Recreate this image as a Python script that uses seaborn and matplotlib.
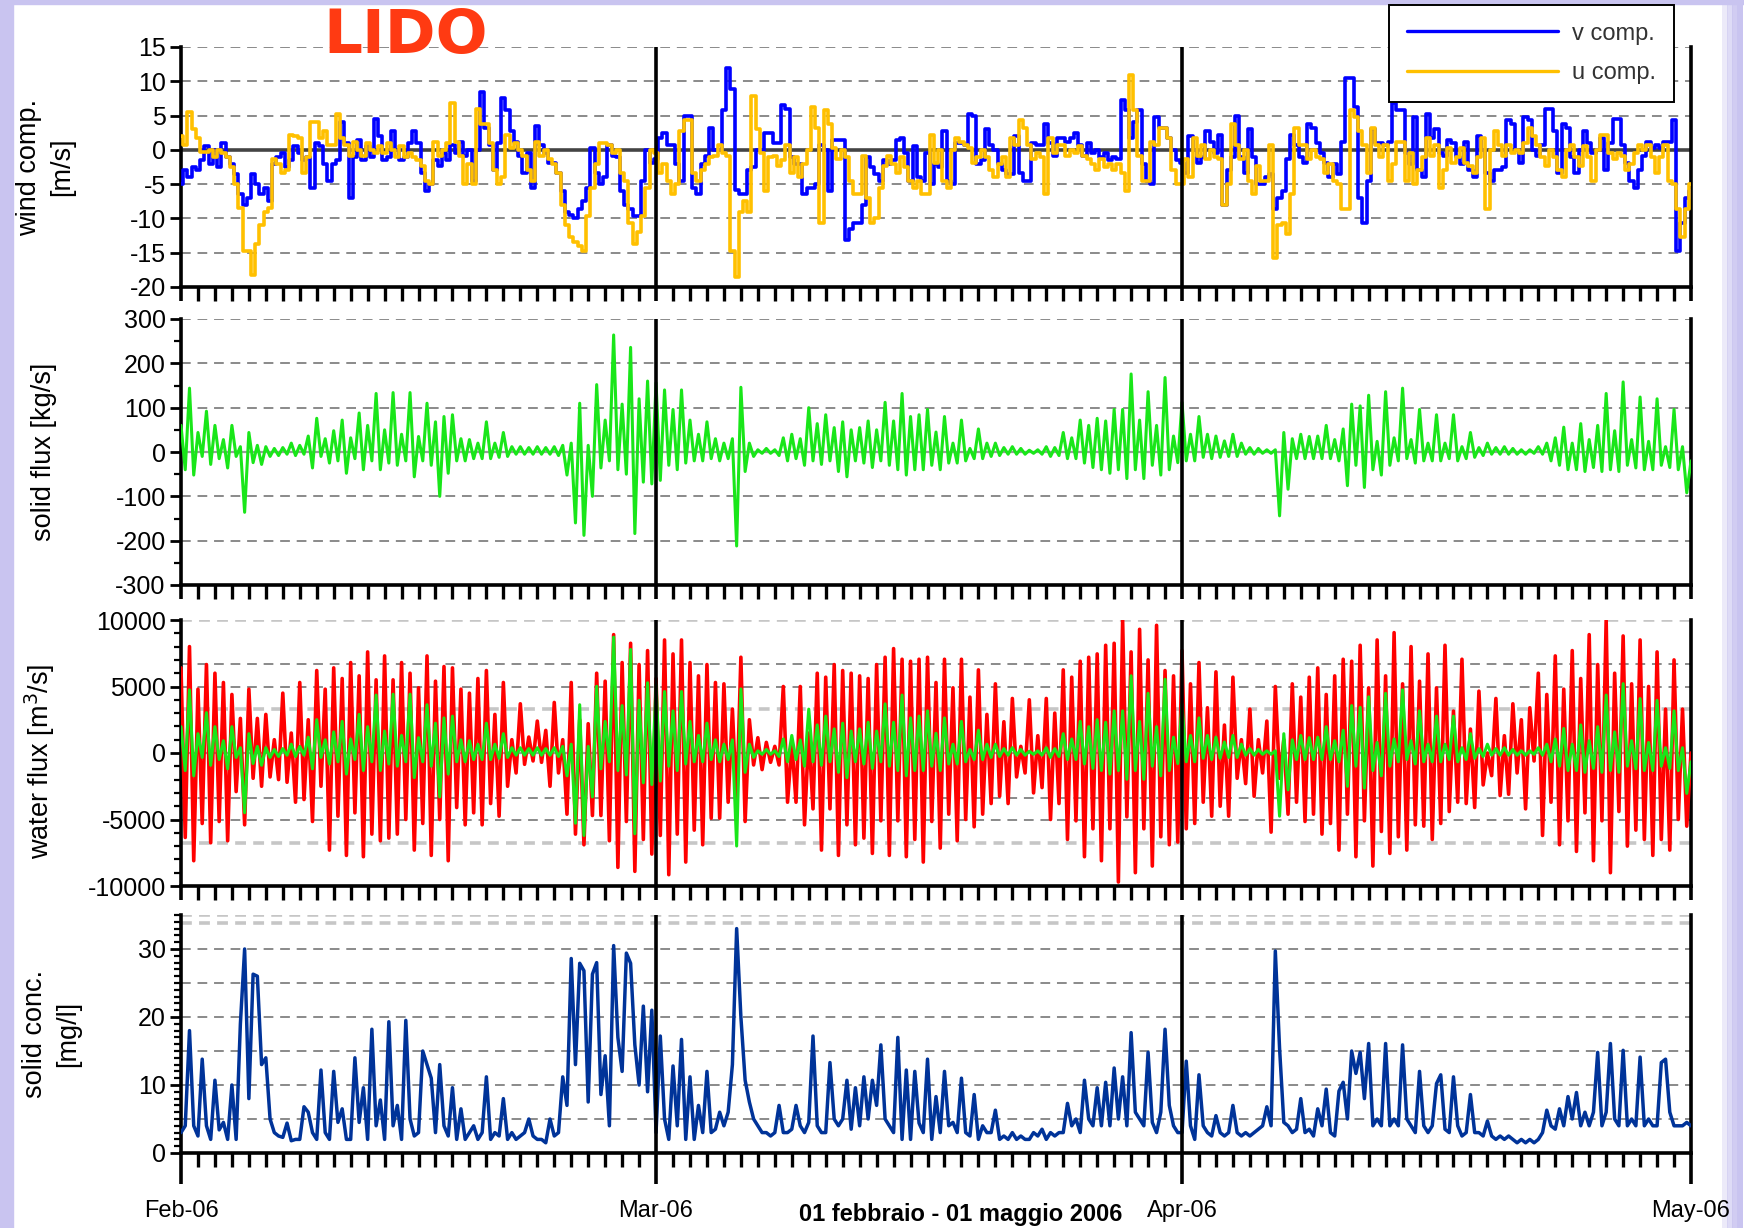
import numpy as np
import pandas as pd
import matplotlib
matplotlib.use("Agg")
import matplotlib.pyplot as plt
import seaborn as sns
from matplotlib.lines import Line2D
from matplotlib.patches import Rectangle, Circle
from matplotlib.ticker import MultipleLocator, FixedLocator

sns.set_theme(style="white")
plt.rcParams['font.family'] = ['Liberation Sans', 'DejaVu Sans']
plt.rcParams['axes.unicode_minus'] = False

# ---------------- data (4 samples per day, 01 Feb 2006 -> 01 May 2006) ----------------
month_ticks = [0, 28, 59, 89]
month_labels = ["Feb-06", "Mar-06", "Apr-06", "May-06"]
samples_per_day = 4

# wind components [m/s]
v_comp = [
    -5, -3, -4, -2.5, -3, -1.5, 0.5, -2, 0, -2.5, 1, -1,
    -2, -3.5, -6.5, -8, -7, -3.5, -5, -6.5, -5.5, -7.5, -2, -1,
    -0.5, -2.5, -1.5, 0.5, -0.5, -1.5, -1, -5.5, 1, 0.5, -2, -4.5,
    -2, -1.5, 4, 1, -7, -1, 1.5, -1.5, 0.5, -1, 4.5, 2,
    -1.5, -1, 2.7, 0, -1.5, -1, 1, 2.7, 1, -3.4, -6, -5,
    -1.5, -2.4, -0.4, -1.5, 0.7, -0.4, 1.2, -0.9, 0, -4.5, 0, 8.4,
    3.2, 0.7, -2.9, 1, 7.6, 5.8, 2.7, 1.2, -0.9, -3.4, -0.5, -5.5,
    3.5, 0.7, -0.4, -1.9, -1.9, -3.4, -6, -9, -9.5, -10, -8.6, -7.5,
    -5.5, 0.2, -3.4, -5, -4, 0.7, -0.9, -1, -6, -8, -8.6, -9.6,
    -9.6, -4.5, 0, -1.9, -1.4, 1.7, 2.5, 0.7, 0.7, -2, -4.5, 5,
    5, -5.5, -6.5, -2, -0.9, 3.2, 0, 0, 5.8, 12, 8.9, -5.8,
    -6.5, -6.5, -3, -2.5, 0, 0, 2.5, 2.5, 1, 1, 6.5, 6,
    -1, -2, -2, -6.5, -5.5, -5.5, -5, 0.7, 0, -6, 1.5, 1.5,
    1.5, -13.2, -11.6, -10.6, -10.6, -8, -1, -2.5, -3.5, -4.5, -1.5, -2,
    -1.5, 1.5, 1.7, -0.5, -4.5, 0.5, -4, -4.5, -0.5, -5, -2, -2.5,
    2.7, -4.5, -5, 1, 1, 0.7, 5.3, 5, -2, -1.5, 3, 0.7,
    0, -2, -3, -3.5, -3.5, 2, -3.4, -4.5, -4.5, 1, 0.7, 0.7,
    3.7, 1, -0.9, 1.7, 1.7, 1.2, 1.7, 2.5, 0.7, -0.9, 1, -0.5,
    0, -1, -0.5, -1.5, -1, -1.4, 7.3, 5.8, 1.7, 4, 5.8, -2,
    -4.5, -5, 4.8, 3.2, 3.2, 1.7, 0, -1.5, -1.9, -3.4, 2, 0,
    -1.9, -1, 2.7, 1.2, -0.5, 2.2, -8, -3, -1, 5, -1, -3.4,
    3, -1, -5, -5, -4, -3.5, -8.6, -7, -6, -1.4, 2.2, 0.7,
    -1, -1.9, 3.7, 3.2, 1, -0.5, -1.9, -4, -2, -3.5, 1.2, 10.5,
    10.5, 6.3, -7, -10.6, -4.5, 3, 1, 1, 0.7, 1.2, 6.8, 5.8,
    5.8, -0.5, -2, 4.8, -2.9, -4, 5.3, 1.7, 3, -0.5, -0.9, 1.5,
    1, -1, -2, 1.2, -2.9, -4, 2, 0, -3.4, -4.5, -3, -2.9,
    -2.5, 4.3, 3.7, 0, -1.9, 4.8, 4.3, 0, -0.9, 0.7, 6, 6,
    2.7, -3.4, 3.7, 3.2, -1, -3.4, 0, 2.7, 1, -0.4, 0, 1.7,
    -2.9, 1, 4.5, 4.5, 0.7, -1.9, -4.5, -5.5, -2.9, -0.9, 1.2, 0.2,
    0.7, 0.2, 1.2, 1.2, 4.3, -14.7, -10.6, -7, -6,
]

u_comp = [
    2, 0.7, 5.5, 3, 1.7, -0.3, -0.3, 0, -1, 0, -0.5, -1,
    -2.5, -5, -8.5, -14.7, -14.7, -18.3, -13.7, -11, -9, -8.5, -1.4, -2,
    -3.4, -3, 2.2, 2, 1.7, -3.4, -1, 4, 4, 1.7, 2.7, 0.7,
    0.7, 5.3, 1.7, 0.7, -0.9, 1.2, 0, -0.9, 1, 0, -0.5, 0.5,
    -0.5, 1, 0, -1, 0.5, -1, -0.5, -1, -1.5, -2.4, -4.5, -5,
    1.2, -0.9, 0, 1, 6.8, 1.2, -0.9, -5, -2, -5, 5.9, 3.7,
    3.7, 1, -2.9, -5, -4, 2.2, 0.2, 1, 0, -0.9, -3, -4.5,
    1.2, -0.9, 0, -1.4, -2, -3.4, -8, -11, -12.7, -13.5, -14, -14.7,
    -9.6, -5.5, -2, 1, 1, 0.7, -0.4, 0, -3.4, -4.5, -10.6, -13.7,
    -12, -9.6, -5.5, 0, -0.4, -3.4, -2, -4.5, -6.5, -5, 2.7, 4.3,
    4.3, -3.4, -4.5, -2.9, -2, -1, -0.9, 0.7, -0.5, -0.9, -14.7, -18.5,
    -9, -7.5, -9, 7.8, 3, -0.4, -6, -1, -0.9, -2.4, -1.5, 0.7,
    -3.4, -1, -4, -2, 0, 6.3, 3.2, -10.6, 5.8, 3.7, 0.2, -1.4,
    0, -1, -4.5, -6.5, -6.5, -0.9, -7, -10.6, -10, -5.5, -2.4, -0.9,
    -2, -3.4, -1, -2.5, -4.5, -5.5, -4.5, -6.5, -6.5, 2.2, -1.9, 0,
    -4.5, -5.5, 0, 1.7, 1.2, 0.7, 0.2, -1.9, -1, 0, -1, -3,
    -4, -2, -1, -4, 1.7, 0.7, 4.3, 3.2, 0.7, -1.4, -0.5, -1,
    -6.5, 1.7, -0.4, 0.7, 0.7, -0.9, 0, -0.5, 0.5, -0.9, -1.4, -2,
    -2.9, -1.4, -2.5, -2, -2.9, -2, -3.4, -6, 10.9, 5.8, -0.9, -4.5,
    -4.5, 1.2, 0.7, 3.2, 3.2, 1.7, -2.9, -5, -5, -1.4, -3.9, 1.7,
    -0.9, 0.7, -1.4, 0, -1, -1.4, -8, -5, 3.7, 0.7, -1.4, 0,
    -4.5, -6.5, -2.4, -4.5, -4.5, 0.7, -15.7, -11, -10.6, -12.2, -6.5, 3.2,
    0.7, 0.7, -1.4, 0, -1, -1.4, -3.4, -2, -4.5, -5, -8.6, -8.6,
    5.8, 4.8, 2.7, 0.7, -3.4, 3.2, 0.7, -1, 0.7, -4.5, -2, 1.2,
    1.2, -4.5, -0.4, -5, -3, -1, 1.7, -0.9, 0.7, -5.5, -3, 0.2,
    -1.9, -1, 0.2, -1.9, -2.4, -3.4, -1, 1.7, -8.6, 0, 2.7, 0.7,
    -0.9, 0.7, -0.4, 0, -0.4, 1, 3.2, 2, 0.7, -1, -2.4, 0,
    -1, -2.9, -4, 0, 0.7, -1, -2.4, 0.5, -1, -4.5, 0, 2.2,
    2.2, -0.4, -1.4, -0.5, -0.9, -2.9, -2, -0.4, 0.7, 0, 0.7, -1,
    -3.4, -1, 0.7, -4.5, -5, -8.6, -12.7, -8.6, -5,
]

# solid flux [kg/s]
solid_flux = [
    60, -40, 144, -52, 44, -10, 92, -28, 60, -15, 28, -36,
    60, -10, 12, -136, 44, -24, 15, -28, 12, -10, 8, -8,
    10, -5, 20, -8, 15, -5, 36, -36, 76, -10, 30, -25,
    48, -20, 72, -48, 32, -15, 88, -40, 60, -20, 132, -40,
    50, -25, 134, -30, 40, -20, 134, -56, 35, -20, 110, -30,
    68, -100, 80, -48, 84, -20, 30, -20, 28, -15, 20, -15,
    68, -15, 20, -12, 44, -10, 12, -5, 12, -5, 10, -5,
    12, -5, 10, -5, 12, -8, 15, -52, 20, -160, 110, -188,
    15, -100, 152, -36, 72, -20, 264, -40, 108, -50, 236, -184,
    120, -68, 160, -72, 156, -64, 140, -30, 96, -40, 140, -25,
    72, -20, 40, -20, 68, -15, 30, -20, 20, -15, 30, -212,
    146, -44, 20, -10, 5, -3, 8, -3, 5, -8, 32, -20,
    40, -15, 30, -30, 100, -20, 64, -28, 84, -20, 55, -44,
    68, -56, 50, -20, 55, -25, 70, -35, 50, -20, 112, -30,
    70, -40, 132, -52, 80, -40, 84, -40, 96, -30, 45, -40,
    80, -25, 20, -25, 72, -20, 8, -15, 52, -15, 20, -10,
    20, -8, 10, -5, 12, -5, 8, -5, 4, -3, 5, -5,
    12, -10, 10, -8, 44, -15, 32, -15, 72, -25, 60, -35,
    76, -40, 70, -48, 96, -40, 96, -60, 176, -40, 72, -60,
    136, -30, 60, -52, 168, -40, 36, -24, 112, -20, 40, -20,
    80, -12, 40, -15, 36, -12, 25, -10, 40, -10, 20, -5,
    10, -5, 8, -3, 5, -3, 5, -144, 44, -84, 30, -15,
    40, -15, 35, -15, 36, -15, 60, -15, 28, -20, 52, -76,
    108, -30, 104, -80, 128, -40, 24, -52, 136, -30, 32, -20,
    144, -15, 28, -25, 96, -20, 20, -20, 84, -20, 20, -15,
    84, -20, 12, -15, 44, -12, 10, -8, 20, -5, 10, -5,
    12, -5, 8, -5, 5, -5, 5, -3, 12, -5, 20, -20,
    32, -30, 56, -40, 20, -40, 64, -44, 28, -35, 60, -44,
    132, -40, 48, -44, 158, -30, 28, -36, 124, -40, 24, -40,
    120, -30, 12, -35, 96, -40, 12, -92, -20,
]

# water flux [m3/s]
water_flux = [
    6400, -6350, 8000, -8100, 4800, -5300, 6650, -6750, 6000, -5150, 5300, -6600,
    4400, -2900, 2600, -5400, 4800, -1900, 2600, -2500, 2900, -1800, 1000, -2000,
    4500, -2200, 1500, -3700, 5300, -3500, 2500, -5150, 6200, -2500, 4800, -7300,
    6400, -4750, 5600, -7700, 6800, -4500, 5800, -7800, 7600, -6100, 5500, -6600,
    7300, -6400, 5500, -6100, 6800, -5000, 6000, -7300, 4900, -5300, 7300, -7700,
    5400, -5000, 6500, -8100, 6400, -4100, 4800, -5400, 4500, -4500, 5600, -5400,
    6200, -3800, 2900, -4750, 5300, -2500, 1000, -1500, 3700, -850, 1200, -600,
    2400, -700, 1700, -2500, 3800, -1500, 1000, -4600, 5300, -6100, 2500, -6900,
    2200, -4700, 6000, -4700, 5400, -6600, 8900, -8600, 6800, -5150, 8250, -8900,
    6650, -6500, 7700, -7600, 5600, -6200, 8500, -9150, 7450, -6100, 8500, -8200,
    6800, -5800, 5800, -6900, 6650, -4900, 5300, -4900, 5200, -3700, 3300, -4000,
    7200, -5150, 2500, -900, 1150, -1250, 800, -700, 500, -900, 5000, -3700,
    750, -3700, 5000, -5400, 1500, -4200, 6000, -7300, 5700, -4200, 6650, -7700,
    6200, -5400, 6000, -6900, 5800, -6400, 5600, -7550, 6650, -5100, 7200, -7700,
    7850, -5100, 7050, -7800, 6900, -6500, 7050, -8200, 7200, -5150, 5300, -7150,
    7050, -4600, 4900, -6600, 7050, -5000, 4200, -5550, 6250, -4600, 2900, -3800,
    5200, -3250, 2350, -3800, 4100, -1800, 500, -1500, 4000, -3000, 1300, -2600,
    4100, -5000, 3000, -3800, 6250, -6500, 5700, -5100, 6900, -7800, 7200, -5700,
    7450, -8100, 8100, -5700, 8250, -9700, 10000, -4800, 7600, -9000, 9300, -5700,
    7000, -8500, 9600, -6300, 6200, -6900, 5800, -6700, 7700, -5700, 5200, -5300,
    6800, -3700, 3400, -4750, 6100, -4000, 2100, -4750, 5700, -1900, 1000, -2300,
    3300, -3250, 1000, -1500, 2400, -5950, 5000, -1900, 1000, -4600, 5200, -3700,
    4200, -5150, 5700, -4600, 6400, -6100, 4400, -5300, 5800, -7300, 7050, -4600,
    6900, -7800, 8100, -5100, 4900, -8500, 8500, -5900, 5800, -7550, 9050, -6300,
    5200, -7300, 8000, -5400, 5400, -5500, 7450, -6500, 4900, -5300, 8100, -4400,
    3150, -3700, 7050, -3800, 1800, -4100, 4650, -2400, 0, -1700, 4100, -3200,
    1300, -3100, 3700, -1500, 2500, -4200, 3400, -600, 6000, -6200, 4400, -3700,
    7300, -6900, 4800, -5100, 7700, -7400, 5600, -4500, 8900, -8100, 6650, -5100,
    10000, -9000, 6000, -4400, 8800, -7000, 5200, -5800, 8500, -6500, 5000, -7700,
    7600, -6500, 3300, -7300, 7000, -5000, 3300, -5500, 0,
]

# solid concentration [mg/l]
solid_conc = [
    3, 4, 18, 4, 2.5, 13.8, 4, 2, 10.7, 3.4, 4.5, 2,
    10, 2, 19, 30, 8, 26.3, 26, 13, 14, 5, 3, 2.5,
    2.3, 4.4, 1.8, 2, 2, 6.8, 6, 3, 2, 12.2, 3, 2,
    12, 4.5, 6.5, 2, 2, 14, 4.5, 9.6, 2, 18.2, 4, 7.8,
    2, 19.3, 4, 7, 2, 19.5, 5, 2.5, 3, 15, 13, 11,
    3, 13, 4, 2.5, 9.6, 2, 6.5, 2, 3, 4, 2, 3,
    11.2, 2, 3, 2.5, 8, 2, 3, 2, 2.5, 3, 5, 2.5,
    2, 2, 1.5, 5, 2.5, 3, 11.2, 7, 28.6, 13, 27.9, 26.8,
    7.5, 26.3, 28, 8.6, 14.3, 4, 30.5, 17, 12, 29.4, 27.9, 15.9,
    10, 21.6, 9, 21, 3, 17.2, 5, 2, 12.8, 4, 16.7, 2,
    11.2, 2, 7, 3, 12, 3, 3.5, 6, 4, 6, 13, 33,
    20, 10.7, 7.5, 5, 4, 3, 3, 2.5, 3, 7, 3, 3,
    3.5, 7, 4, 3, 4.5, 17.2, 4, 3, 3, 13.3, 5, 4,
    5, 10.7, 3.5, 9.6, 4, 11.2, 5, 10.7, 7, 15.9, 5, 4,
    3, 17, 2, 12.2, 2, 12, 4.4, 3, 13.8, 2, 8.3, 3,
    12, 4, 4.5, 3, 11, 3, 2.5, 8.6, 2, 4, 3, 3,
    6.3, 2, 2.5, 2, 3, 2, 2.5, 2, 2, 3, 2.5, 3.5,
    2, 3, 2.5, 3, 3, 7.3, 4, 5, 3, 10.7, 5, 4,
    9.6, 4, 10.4, 4, 12.5, 5, 11.2, 4, 17.7, 6, 5, 4,
    14.8, 4.5, 3, 6, 18.2, 7, 4, 3, 3, 13.5, 4, 2,
    11.5, 4, 3, 2.5, 5.5, 3, 2.5, 3, 7, 3, 2.5, 3,
    2.5, 3, 3.5, 4, 6.8, 4, 29.7, 15.4, 4.5, 4, 3, 3.5,
    8, 3, 3.5, 2.5, 6.5, 4, 9.4, 3, 2.5, 9.1, 10.4, 5,
    15, 11.7, 14.8, 8, 16.1, 4, 5, 4, 16.1, 4, 5, 4,
    15.9, 5, 4, 3, 12, 4, 3, 4, 10.2, 11.5, 3.5, 3,
    11.2, 4, 2.5, 3, 8.6, 3, 3, 2.5, 4.7, 2.5, 2, 2.5,
    2, 2.5, 2, 1.5, 2, 1.5, 2, 1.5, 2, 3, 6.3, 4,
    3.5, 6.5, 4, 8.3, 5, 8.9, 4, 6, 4, 6, 14.8, 4,
    6, 16.1, 5, 4, 15.1, 4, 5, 4, 14.1, 4, 5, 4,
    4, 13.3, 13.8, 6, 4, 4, 4, 4.5, 4,
]

# solid flux is also drawn (rescaled) over the water flux panel
green_scale = 33

# ---------------- tables ----------------
n = len(v_comp)
assert all(len(a) == n for a in (u_comp, solid_flux, water_flux, solid_conc))
day = np.arange(n) / samples_per_day
wind_df = pd.DataFrame({"day": day, "v": v_comp, "u": u_comp})
flux_df = pd.DataFrame({
    "day": day,
    "solid": solid_flux,
    "water": water_flux,
    "solid_scaled": np.asarray(solid_flux, float) * green_scale,
    "conc": solid_conc,
})

BLUE = "#0000ff"
GOLD = "#ffc000"
GREEN = "#19e619"
RED = "#ff0000"
NAVY = "#003399"

# ---------------- figure ----------------
W, H = 1744, 1228
fig = plt.figure(figsize=(W / 100, H / 100), dpi=100)
fig.patch.set_facecolor("white")

# slide frame
lav = "#c9c4f0"
fig.add_artist(Rectangle((0, 0), 13 / W, 1, transform=fig.transFigure, color=lav, zorder=-5))
for i, a in enumerate([0.35, 0.6, 0.85, 1.0]):
    fig.add_artist(Rectangle(((1722 + 5 * i) / W, 0), 6 / W, 1, transform=fig.transFigure,
                             color=lav, alpha=a, zorder=-5, lw=0))
fig.add_artist(Rectangle((0, 1 - 4 / H), 1, 4 / H, transform=fig.transFigure, color=lav, zorder=-5))
fig.add_artist(Circle((838 / W, 1 + 70 / H), 78 / W, transform=fig.transFigure,
                      color="#bcd8ee", zorder=-4))


def box(x0, y0, x1, y1):
    return [x0 / W, 1 - y1 / H, (x1 - x0) / W, (y1 - y0) / H]


ax1 = fig.add_axes(box(181, 47, 1691, 287))
ax2 = fig.add_axes(box(181, 319, 1691, 585))
ax3 = fig.add_axes(box(181, 620, 1691, 886))
ax4 = fig.add_axes(box(181, 915, 1691, 1153))

common = dict(legend=False, estimator=None, errorbar=None)
sns.lineplot(data=wind_df, x="day", y="v", ax=ax1, color=BLUE, lw=2.6, drawstyle="steps-mid", zorder=3, **common)
sns.lineplot(data=wind_df, x="day", y="u", ax=ax1, color=GOLD, lw=2.6, drawstyle="steps-mid", zorder=3.1, **common)
sns.lineplot(data=flux_df, x="day", y="solid", ax=ax2, color=GREEN, lw=2.2, zorder=3, **common)
sns.lineplot(data=flux_df, x="day", y="water", ax=ax3, color=RED, lw=2.6, zorder=3, **common)
sns.lineplot(data=flux_df, x="day", y="solid_scaled", ax=ax3, color=GREEN, lw=2.2, zorder=3.1, **common)
sns.lineplot(data=flux_df, x="day", y="conc", ax=ax4, color=NAVY, lw=2.5, zorder=3, **common)

DARK_DASH = dict(color="#8a8a8a", lw=1.4, dashes=(5, 3.5), zorder=1)
LIGHT_DASH = dict(color="#c6c6c6", lw=2.6, dashes=(3, 2), zorder=1)


def style_axis(ax, ylim, major, minor, dashed, light, zero=None, bottom=False):
    ax.set_facecolor("white")
    ax.set_xlim(0, 89)
    ax.set_ylim(*ylim)
    ax.set_xlabel("")
    ax.yaxis.set_major_locator(FixedLocator(major))
    ax.yaxis.set_minor_locator(MultipleLocator(minor))
    ax.xaxis.set_major_locator(FixedLocator(month_ticks))
    ax.xaxis.set_minor_locator(MultipleLocator(1))
    for side in ("left", "bottom", "right"):
        ax.spines[side].set_visible(True)
        ax.spines[side].set_linewidth(2.6)
        ax.spines[side].set_color("black")
    ax.spines["top"].set_visible(False)
    ax.tick_params(axis="y", which="major", left=True, direction="out", length=8, width=2,
                   labelsize=18, pad=3, color="black", labelcolor="black")
    ax.tick_params(axis="y", which="minor", left=True, direction="out", length=5, width=1.6, color="black")
    ax.tick_params(axis="x", which="minor", bottom=True, direction="out", length=10, width=2.4, color="black")
    ax.tick_params(axis="x", which="major", bottom=True, direction="out",
                   length=22 if bottom else 10, width=2.6, color="black",
                   labelbottom=bottom, labelsize=17, pad=12, labelcolor="black")
    for y in dashed:
        ax.axhline(y, **DARK_DASH)
    for y in light:
        ax.axhline(y, **LIGHT_DASH)
    if zero is not None:
        ax.axhline(0, zorder=1, **zero)
    for m in month_ticks[1:3]:
        ax.axvline(m, color="black", lw=2.6, zorder=5)


style_axis(ax1, (-20, 15), [-20, -15, -10, -5, 0, 5, 10, 15], 5,
           [15, 10, 5, -5, -10, -15], [], zero=dict(color="#444444", lw=2.6))
style_axis(ax2, (-300, 300), [-300, -200, -100, 0, 100, 200, 300], 50,
           [300, 200, 100, -100, -200], [], zero=dict(color="#9a9a9a", lw=1.6))
style_axis(ax3, (-10000, 10000), [-10000, -5000, 0, 5000, 10000], 1000,
           [6700, 5000, -3400, -5000], [10000, 3300, -6800], zero=dict(color="#9a9a9a", lw=1.6))
style_axis(ax4, (0, 35), [0, 10, 20, 30], 1,
           [5, 10, 15, 20, 25, 30], [33.8, 35], zero=None, bottom=True)
ax4.set_xticklabels(month_labels)

ylab = dict(fontsize=19.5, color="black", linespacing=1.35)
ax1.set_ylabel("wind comp.\n[m/s]", **ylab)
ax2.set_ylabel("solid flux [kg/s]", **ylab)
ax3.set_ylabel("water flux [m$^3$/s]", **ylab)
ax4.set_ylabel("solid conc.\n[mg/l]", **ylab)
ax1.yaxis.set_label_coords(-0.070, 0.5)
ax2.yaxis.set_label_coords(-0.082, 0.5)
ax3.yaxis.set_label_coords(-0.082, 0.47)
ax4.yaxis.set_label_coords(-0.066, 0.5)

# legend
handles = [Line2D([], [], color=BLUE, lw=2.4), Line2D([], [], color=GOLD, lw=2.4)]
leg = fig.legend(handles, ["v comp.", "u comp."], loc="upper right",
                 bbox_to_anchor=(1674 / W, 1 - 5 / H), frameon=True, fancybox=False,
                 edgecolor="black", framealpha=1, fontsize=17, handlelength=6.4,
                 handletextpad=0.6, borderpad=0.75, labelspacing=0.75, borderaxespad=0)
leg.get_frame().set_linewidth(1.4)
for txt in leg.get_texts():
    txt.set_color("#333333")

# titles
fig.text(406 / W, 1 - 37 / H, "LIDO", ha="center", va="center", fontsize=44,
         fontweight="bold", color="#ff3a12", family=["DejaVu Sans"])
fig.text(961 / W, 2 / H, "01 febbraio - 01 maggio 2006", ha="center", va="bottom",
         fontsize=17, fontweight="bold", color="black")

fig.savefig("out.png", dpi=100, facecolor=fig.get_facecolor())
